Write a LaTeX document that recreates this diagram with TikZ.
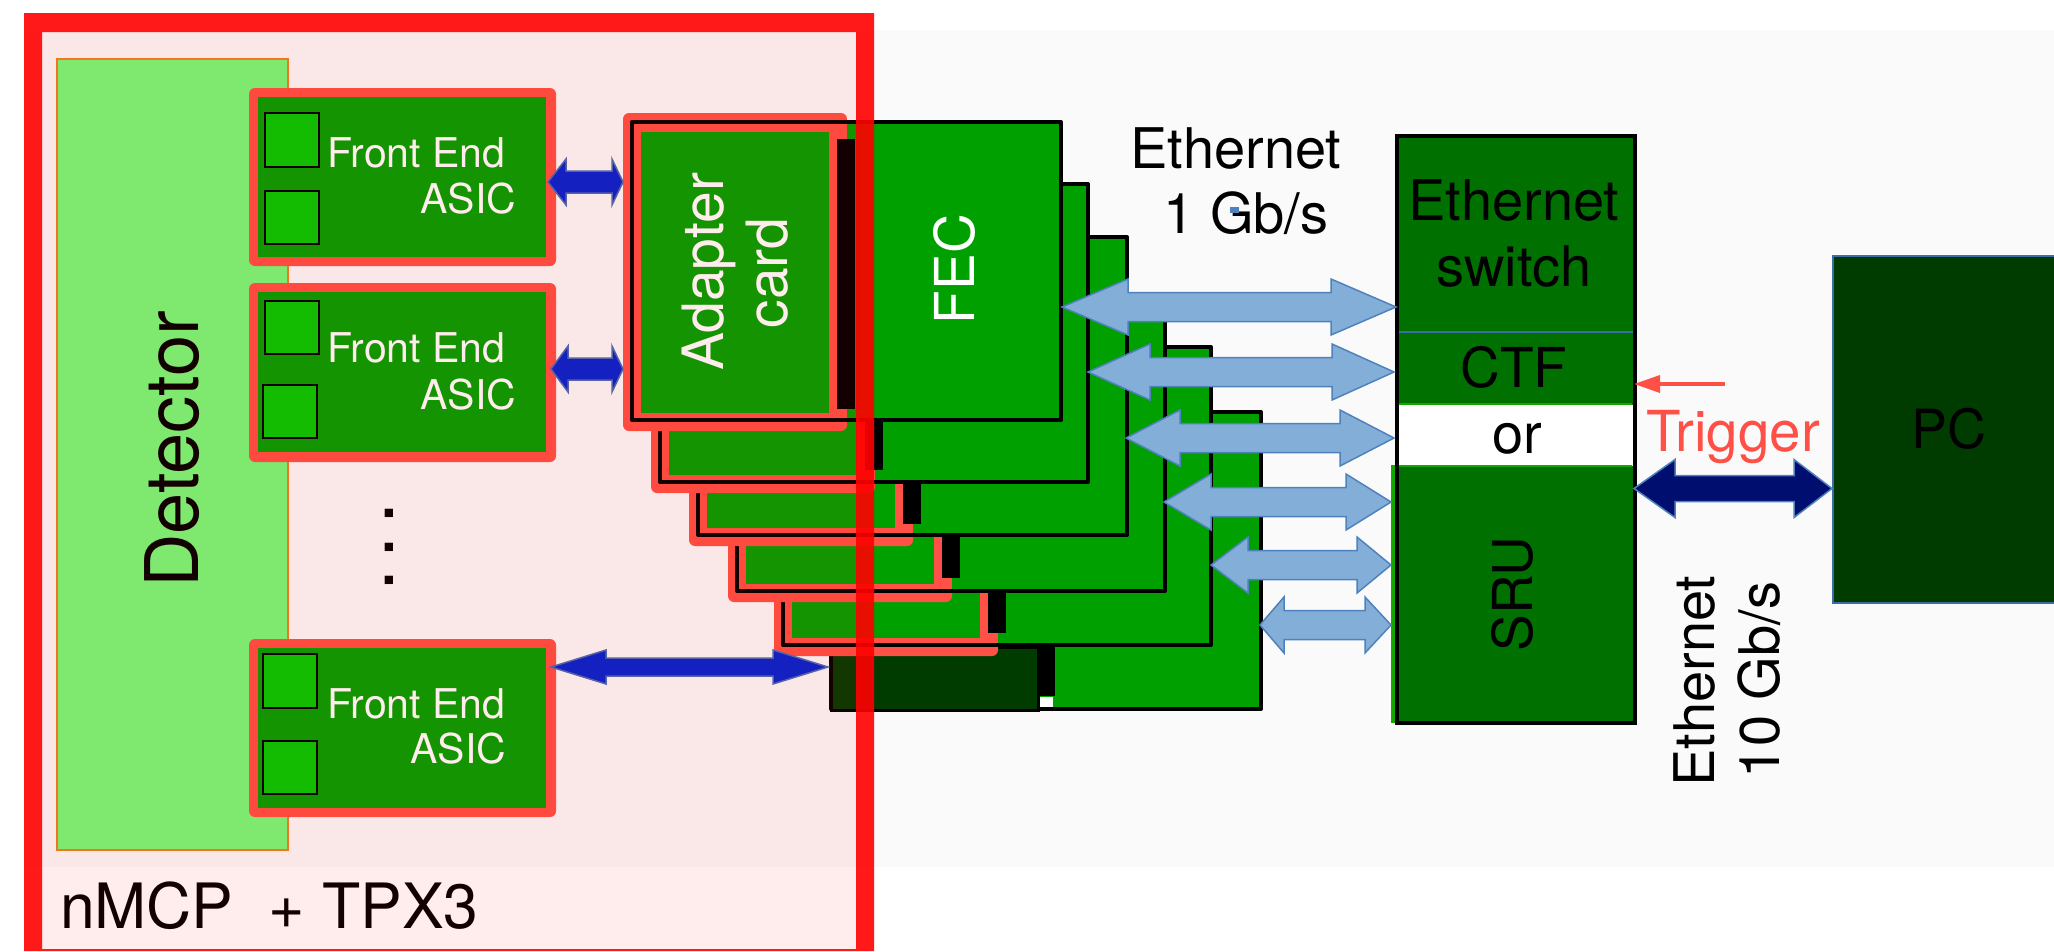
\documentclass[tikz,border=0pt]{standalone}
\usepackage{fontspec}
\setmainfont{TeX Gyre Heros}
\usetikzlibrary{calc,arrows.meta}
\definecolor{bggray}{HTML}{FAFAFA}
\definecolor{fecgreen}{HTML}{00A000}
\definecolor{sqgreen}{HTML}{00CC00}
\definecolor{detgreen}{HTML}{74FB79}
\definecolor{detedge}{HTML}{F08020}
\definecolor{cardred}{HTML}{FF5145}
\definecolor{trigred}{HTML}{FF5047}
\definecolor{swgreen}{HTML}{007000}
\definecolor{swedge}{HTML}{12A800}
\definecolor{darkgreen}{HTML}{003C00}
\definecolor{arrowblue}{HTML}{0323D0}
\definecolor{arrowedge}{HTML}{4A6BB5}
\definecolor{lightarrow}{HTML}{82AED8}
\definecolor{lightedge}{HTML}{4F81BD}
\definecolor{navyarrow}{HTML}{000E70}
\definecolor{sepblue}{HTML}{3B6DA8}
\newcommand{\fsz}[1]{\fontsize{#1}{#1}\selectfont}
\newcommand{\boxnode}[6]{%
  \pgfmathsetmacro\bxw{#5-#3}\pgfmathsetmacro\bxh{#6-#4}%
  \pgfmathsetmacro\bxx{(#5+#3)/2}\pgfmathsetmacro\bxy{(#6+#4)/2}%
  \node[#1,minimum width=\bxw pt,minimum height=\bxh pt,inner sep=0pt,outer sep=0pt] (#2) at (\bxx,\bxy) {};}
% args: style, from, to, head length left, head length right, head half width, shaft half width
\newcommand{\dblarrow}[7]{%
  \draw[#1] (#2) -- ($(#2)+(#4,-#6)$) -- ($(#2)+(#4,-#7)$) -- ($(#3)+(-#5,-#7)$) -- ($(#3)+(-#5,-#6)$)
   -- (#3) -- ($(#3)+(-#5,#6)$) -- ($(#3)+(-#5,#7)$) -- ($(#2)+(#4,#7)$) -- ($(#2)+(#4,#6)$) -- cycle;}
% stack layer: n, card left, fec top, fec right, fec bottom, connector top, connector bottom
\newcommand{\fecstack}[7]{%
  \pgfmathsetmacro\cL{#2}\pgfmathsetmacro\cR{#2+224}\pgfmathsetmacro\cT{#3-9}\pgfmathsetmacro\cB{#5+11}%
  \pgfmathsetmacro\fL{#2+9}\pgfmathsetmacro\rL{#2+11}\pgfmathsetmacro\rT{#3+2}\pgfmathsetmacro\rB{#5-2}%
  \pgfmathsetmacro\iL{#2+18}\pgfmathsetmacro\iR{#2+206}\pgfmathsetmacro\iT{#3+10}\pgfmathsetmacro\iB{#5-7.5}%
  \pgfmathsetmacro\kL{#2+214}\pgfmathsetmacro\kR{#2+232}%
  \boxnode{redouter}{card#1o}{\cL}{\cT}{\cR}{\cB}
  \boxnode{fecbox}{fec#1}{\fL}{#3}{#4}{#5}
  \boxnode{redfill}{card#1r}{\rL}{\rT}{\cR}{\rB}
  \boxnode{greenfill}{card#1i}{\iL}{\iT}{\iR}{\iB}
  \boxnode{conn}{conn#1}{\kL}{#6}{\kR}{#7}}
\tikzset{
  redouter/.style={fill=cardred,rounded corners=6pt},
  redfill/.style={fill=cardred},
  greenfill/.style={fill=fecgreen},
  fecbox/.style={fill=fecgreen,draw=black,line width=4pt,line join=round},
  conn/.style={fill=black},
  square/.style={fill=sqgreen,draw=black,line width=2pt},
  lbl/.style={inner sep=0pt,outer sep=0pt,anchor=base},
  wlbl/.style={lbl,text=white},
  bluearrow/.style={fill=arrowblue,draw=arrowedge,line width=1.5pt,line join=miter},
  lightarr/.style={fill=lightarrow,draw=lightedge,line width=1.5pt,line join=miter},
  navyarr/.style={fill=navyarrow,draw=lightedge,line width=1.5pt,line join=miter},
}
\begin{document}
\begin{tikzpicture}[x=1pt,y=-1pt]
\useasboundingbox (0,0) rectangle (2054,951);
\fill[white] (0,0) rectangle (2054,951);
\fill[bggray] (24,30) rectangle (2054,867);

% back of stack: sixth FEC with dark box
\boxnode{fecbox}{fec6}{831}{412}{1261}{709}
\boxnode{fill=darkgreen,draw=black,line width=3pt}{dark}{831}{647}{1038}{710}
\boxnode{fill=white}{gap}{1040}{697}{1053}{707}
\boxnode{conn}{conn6}{1037}{645}{1055}{696}
% stacked FEC + adapter cards, back to front
\fecstack{5}{774}{347}{1211}{645}{593}{633}
\fecstack{4}{728}{295}{1165}{591}{537}{578}
\fecstack{3}{689}{237}{1127}{535}{482}{524}
\fecstack{2}{651}{184}{1088}{482}{421}{470}
\fecstack{1}{623}{122}{1061}{420}{139}{409}
\node[wlbl,rotate=90] (adapter) at (723,272) {\fsz{57}Adapter};
\node[wlbl,rotate=90] (cardtxt) at (787,273) {\fsz{57}card};
\node[wlbl,rotate=90] (fectxt) at (974,269) {\fsz{55}FEC};

% detector
\boxnode{fill=detgreen,draw=detedge,line width=2pt}{det}{57}{59}{288}{850}
\node[lbl,rotate=90] (dettxt) at (198,449) {\fsz{74}Detector};
\node[lbl,rotate=90] (dots) at (393,547) {\fsz{80}.\kern11pt.\kern11pt.};

% front end boards
\boxnode{redouter}{fe1o}{249}{88}{556}{266}
\boxnode{greenfill}{fe1}{258}{97}{546}{257}
\boxnode{square}{s1a}{265}{113}{319}{167}
\boxnode{square}{s1b}{265}{191}{319}{244}
\node[wlbl,anchor=base west] (fe1a) at (327,167) {\fsz{41}Front End};
\node[wlbl,anchor=base east] (fe1b) at (516,213) {\fsz{41}ASIC};

\boxnode{redouter}{fe2o}{249}{283}{556}{462}
\boxnode{greenfill}{fe2}{258}{292}{546}{452}
\boxnode{square}{s2a}{265}{301}{319}{354}
\boxnode{square}{s2b}{263}{385}{317}{438}
\node[wlbl,anchor=base west] (fe2a) at (327,362) {\fsz{41}Front End};
\node[wlbl,anchor=base east] (fe2b) at (516,409) {\fsz{41}ASIC};

\boxnode{redouter}{fe3o}{249}{639}{556}{817}
\boxnode{greenfill}{fe3}{258}{648}{546}{808}
\boxnode{square}{s3a}{263}{654}{317}{708}
\boxnode{square}{s3b}{263}{741}{317}{794}
\node[wlbl,anchor=base west] (fe3a) at (327,718) {\fsz{41}Front End};
\node[wlbl,anchor=base east] (fe3b) at (506,763) {\fsz{41}ASIC};

% blue arrows
\coordinate (b1a) at (548,182); \coordinate (b1b) at (623,182);
\coordinate (b2a) at (551,369); \coordinate (b2b) at (623,369);
\coordinate (b3a) at (551,667); \coordinate (b3b) at (828,667);
\dblarrow{bluearrow}{b1a}{b1b}{18}{11}{23}{11}
\dblarrow{bluearrow}{b2a}{b2b}{17}{11}{23}{11}
\dblarrow{bluearrow}{b3a}{b3b}{55}{55}{17}{9}

% switch column
\boxnode{fill=swedge}{sruedge}{1391}{465}{1400}{723}
\boxnode{fill=swgreen,draw=black,line width=3.5pt}{switch}{1397}{136}{1635}{723}
\boxnode{fill=white}{orbox}{1399}{405}{1632.5}{466}
\draw[swedge,line width=2pt] (1399,404) -- (1632,404);
\draw[swedge,line width=1.5pt] (1399,466) -- (1632,466);
\draw[sepblue,line width=2pt] (1399,332) -- (1633,332);
\node[lbl] (sw1) at (1514,220) {\fsz{56}Ethernet};
\node[lbl] (sw2) at (1514,286) {\fsz{56}switch};
\node[lbl] (ctf) at (1514,387) {\fsz{55}CTF};
\node[lbl] (ortxt) at (1517,453) {\fsz{56}or};
\node[lbl,rotate=90] (sru) at (1532,594) {\fsz{55}SRU};

% Ethernet 1 Gb/s
\node[lbl] (e1a) at (1236,168) {\fsz{56}Ethernet};
\node[lbl] (e1b) at (1246,233) {\fsz{56}1 Gb/s};
\fill[lightedge] (1230,207) rectangle (1239,213);

% light arrows
\coordinate (a1a) at (1062,307); \coordinate (a1b) at (1396,307);
\coordinate (a2a) at (1088,372); \coordinate (a2b) at (1394,372);
\coordinate (a3a) at (1126,438); \coordinate (a3b) at (1394,438);
\coordinate (a4a) at (1164,502); \coordinate (a4b) at (1391,502);
\coordinate (a5a) at (1211,565); \coordinate (a5b) at (1391,565);
\coordinate (a6a) at (1260,625); \coordinate (a6b) at (1391,625);
\dblarrow{lightarr}{a1a}{a1b}{66}{65}{28}{14.5}
\dblarrow{lightarr}{a2a}{a2b}{62}{62}{28}{14.5}
\dblarrow{lightarr}{a3a}{a3b}{54}{54}{28}{14.5}
\dblarrow{lightarr}{a4a}{a4b}{47}{45}{28}{14.5}
\dblarrow{lightarr}{a5a}{a5b}{37}{34}{28}{14.5}
\dblarrow{lightarr}{a6a}{a6b}{24}{26}{28}{14.5}

% PC
\boxnode{fill=darkgreen,draw=sepblue,line width=2pt}{pc}{1833}{256}{2060}{603}
\node[lbl] (pctxt) at (1949,448) {\fsz{54}PC};

% trigger
\coordinate (trigtail) at (1725,384); \coordinate (trigtip) at (1634,384);
\draw[trigred,line width=3.5pt,-{Triangle[length=26pt,width=17pt]}] (trigtail) -- (trigtip);
\node[lbl,text=trigred] (trigger) at (1733,451) {\fsz{56.5}Trigger};
\coordinate (n1) at (1634,488.5); \coordinate (n2) at (1832,488.5);
\dblarrow{navyarr}{n1}{n2}{41}{38}{29}{13}
\node[lbl,rotate=90] (e10a) at (1714,681) {\fsz{56}Ethernet};
\node[lbl,rotate=90] (e10b) at (1779,680) {\fsz{56}10 Gb/s};

% nMCP label
\node[lbl,anchor=base west] (nmcp) at (60,928) {\fsz{62.5}nMCP\ \ + TPX3};

% translucent red tint and frame
\fill[red,opacity=0.076] (42,32) rectangle (860,949);
\fill[red,opacity=0.9,even odd rule] (24,13) rectangle (874,951) (42,32) rectangle (856,949);
\end{tikzpicture}
\end{document}
